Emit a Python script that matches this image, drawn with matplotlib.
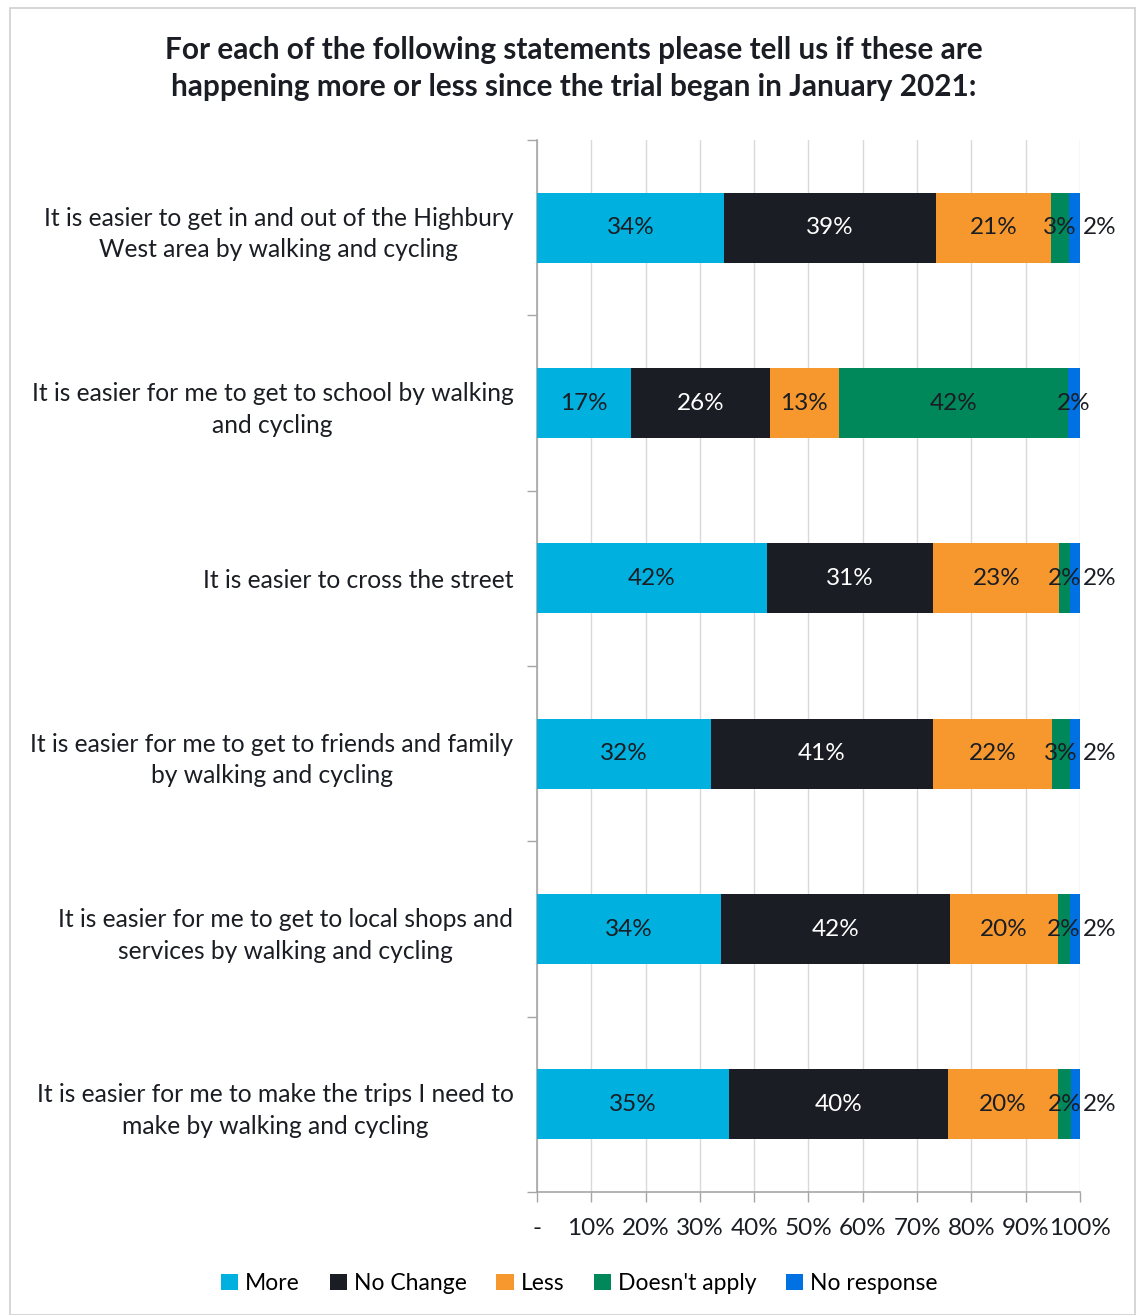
import matplotlib
matplotlib.use('Agg')
import matplotlib.pyplot as plt
import numpy as np
from matplotlib.patches import Rectangle

statements = [
    "It is easier to get in and out of the Highbury\nWest area by walking and cycling",
    "It is easier for me to get to school by walking\nand cycling",
    "It is easier to cross the street",
    "It is easier for me to get to friends and family\nby walking and cycling",
    "It is easier for me to get to local shops and\nservices by walking and cycling",
    "It is easier for me to make the trips I need to\nmake by walking and cycling",
]
series_names = ["More", "No Change", "Less", "Doesn't apply", "No response"]
more = [34.4, 17.3, 42.3, 32.0, 33.9, 35.4]
no_change = [39.0, 25.6, 30.7, 40.9, 42.2, 40.3]
less = [21.3, 12.7, 23.2, 21.9, 19.8, 20.2]
doesnt_apply = [3.3, 42.2, 1.9, 3.4, 2.3, 2.4]
no_response = [2.0, 2.2, 1.9, 1.8, 1.8, 1.7]
tick_labels = ["-", "10%", "20%", "30%", "40%", "50%", "60%", "70%", "80%", "90%", "100%"]

colors = ["#00B0DE", "#1A1D23", "#F7982E", "#00875A", "#0071E3"]
text_colors = ["#1A1D23", "white", "#1A1D23", "#1A1D23", "#1A1D23"]

plt.rcParams['font.family'] = ['Lato', 'DejaVu Sans']

fig = plt.figure(figsize=(11.36, 13.15), dpi=100)
fig.patches.append(Rectangle((0.009, 0.0), 0.99, 0.994, transform=fig.transFigure,
                             fill=False, edgecolor='#D0D0D0', linewidth=1.2))
ax = fig.add_axes([0.4727, 0.0935, 0.478, 0.8000])

data = [more, no_change, less, doesnt_apply, no_response]
y = np.arange(len(statements))
left = np.zeros(len(statements))
for i, vals in enumerate(data):
    vals = np.array(vals)
    ax.barh(y, vals, left=left, height=0.4, color=colors[i], label=series_names[i], zorder=3)
    for j in range(len(statements)):
        lbl = "%d%%" % round(vals[j])
        xc = left[j] + vals[j] / 2
        if i == 4 and doesnt_apply[j] < 10:
            xc = 100 + 3.6
        ax.text(xc, y[j], lbl, ha='center', va='center', fontsize=17.5,
                color=text_colors[i], zorder=4)
    left += vals

ax.set_xlim(0, 100)
ax.set_ylim(len(statements) - 0.5, -0.5)
ax.set_xticks(np.arange(0, 101, 10))
ax.set_xticklabels(tick_labels, fontsize=17.5, color='#1A1D23')
ax.set_yticks(y)
ax.set_yticklabels(statements, fontsize=17.7, color='#1A1D23')
for t in ax.get_yticklabels():
    t.set_multialignment('center')
    t.set_linespacing(1.45)
ax.set_yticks(np.arange(-0.5, len(statements)), minor=True)
ax.tick_params(axis='y', which='major', length=0, pad=17)
ax.tick_params(axis='y', which='minor', length=7, color='#A6A6A6', width=1)
ax.tick_params(axis='x', length=7, color='#A6A6A6', width=1, pad=12)

ax.grid(axis='x', color='#D9D9D9', linewidth=1, zorder=0)
for s in ['top', 'right']:
    ax.spines[s].set_visible(False)
ax.spines['left'].set_color('#A6A6A6')
ax.spines['bottom'].set_color('#A6A6A6')
ax.spines['left'].set_linewidth(1.2)
ax.spines['bottom'].set_linewidth(1.2)

fig.text(0.505, 0.948, "For each of the following statements please tell us if these are\nhappening more or less since the trial began in January 2021:",
         ha='center', va='center', fontsize=21.4, fontweight='bold', color='#1A1D23', linespacing=1.42)

fig.legend(loc='center', bbox_to_anchor=(0.51, 0.024), ncol=5, frameon=False, fontsize=16.5,
           handlelength=0.75, handleheight=0.75, handletextpad=0.3, columnspacing=1.3)

fig.savefig('out.png', dpi=100)
